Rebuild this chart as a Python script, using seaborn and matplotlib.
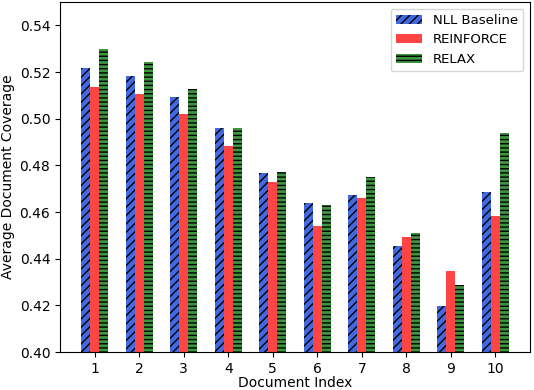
import matplotlib
matplotlib.use("Agg")
import matplotlib.pyplot as plt
import seaborn as sns
import pandas as pd

doc_index = [1, 2, 3, 4, 5, 6, 7, 8, 9, 10]
nll_baseline = [0.5216, 0.5182, 0.5092, 0.4960, 0.4768, 0.4640, 0.4674, 0.4453, 0.4197, 0.4687]
reinforce = [0.5135, 0.5105, 0.5020, 0.4883, 0.4730, 0.4538, 0.4662, 0.4491, 0.4346, 0.4585]
relax = [0.5297, 0.5241, 0.5126, 0.4960, 0.4770, 0.4632, 0.4751, 0.4508, 0.4287, 0.4939]

series_names = ["NLL Baseline", "REINFORCE", "RELAX"]
colors = ["#4169e1", "#ff4444", "#3d963d"]
hatches = ["////", "", "----"]

df = pd.DataFrame({
    "Document Index": doc_index * 3,
    "value": nll_baseline + reinforce + relax,
    "series": [s for s in series_names for _ in doc_index],
})

plt.rcParams["hatch.color"] = "black"
plt.rcParams["hatch.linewidth"] = 1.0

fig = plt.figure(figsize=(5.34, 3.90), dpi=100)
ax = fig.add_axes([60 / 534, 1 - 352 / 390, 470 / 534, 350 / 390])

sns.barplot(data=df, x="Document Index", y="value", hue="series",
            hue_order=series_names, palette=colors, width=0.6,
            saturation=1, ax=ax, legend=False, native_scale=True)

for cont, h, c in zip(ax.containers, hatches, colors):
    for p in cont.patches:
        p.set_hatch(h)
        p.set_facecolor(c)
        p.set_edgecolor("black")
        p.set_linewidth(0)

ax.legend(handles=ax.containers, labels=series_names, loc="upper right",
          fontsize=9.5)
ax.set_ylim(0.40, 0.55)
ax.set_xlim(0.22, 10.78)
ax.set_xticks(doc_index)
ax.set_xticklabels([str(i) for i in doc_index])
ax.set_yticks([0.40, 0.42, 0.44, 0.46, 0.48, 0.50, 0.52, 0.54])
ax.set_xlabel("Document Index", labelpad=0.5)
ax.set_ylabel("Average Document Coverage", labelpad=3)

fig.savefig("out.png", dpi=100)
